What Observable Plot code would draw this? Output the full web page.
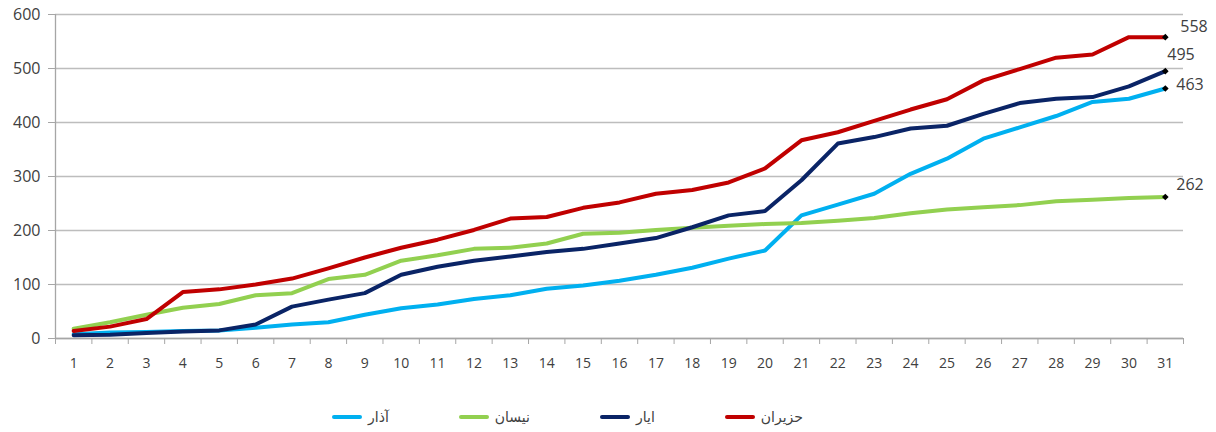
<!DOCTYPE html>
<html>
<head>
<meta charset="utf-8">
<script src="https://cdn.jsdelivr.net/npm/d3@7"></script>
<script src="https://cdn.jsdelivr.net/npm/@observablehq/plot@0.6"></script>
<style>
  body { margin: 0; background: #fff; font-family: "Open Sans", "DejaVu Sans", sans-serif; }
  #chart svg { display: block; }
  .legend { display: flex; gap: 70px; padding-left: 332px; margin-top: 22px; height: 20px; align-items: center; font-size: 14px; color: #404040; font-family: "DejaVu Sans", sans-serif; }
  .legend .item { display: flex; align-items: center; gap: 6px; }
  .legend .sw { width: 30px; height: 4px; border-radius: 2px; }
</style>
</head>
<body>
<div id="chart"></div>
<script>
const days = [1,2,3,4,5,6,7,8,9,10,11,12,13,14,15,16,17,18,19,20,21,22,23,24,25,26,27,28,29,30,31];
const seriesNames = ["آذار", "نيسان", "ايار", "حزيران"];
const seriesColors = ["#00b0f0", "#92d050", "#0a2466", "#c00000"];
const adhar   = [8,11,12,14,15,20,26,30,44,56,63,73,80,92,98,107,118,131,148,163,228,248,268,305,333,370,391,412,438,444,463];
const nisan   = [18,30,44,57,64,80,84,110,118,144,154,166,168,176,194,196,201,205,209,212,214,218,223,232,239,243,247,254,257,260,262];
const ayar    = [6,7,10,13,15,26,59,72,84,118,133,144,152,160,166,176,186,206,228,236,293,361,373,389,394,416,436,444,447,467,495];
const haziran = [14,22,36,86,91,100,111,130,150,168,183,201,222,225,242,252,268,275,289,315,367,382,403,424,443,478,499,520,526,558,558];
const yTicks = [0,100,200,300,400,500,600];

const seriesValues = [adhar, nisan, ayar, haziran];
const rows = [];
seriesNames.forEach((name, i) => {
  days.forEach((d, j) => rows.push({series: name, day: d, value: seriesValues[i][j]}));
});
const lastRows = seriesNames.map((name, i) => ({series: name, day: days[days.length - 1], value: seriesValues[i][days.length - 1]}));
const boundaries = [days[0] - 0.5, ...days.map(d => d + 0.5)];

// end-label placement (styling only), in series order
const labelDx = [11, 11, 2, 15];
const labelDy = [-4, -12, -16, -10];
const endLabels = lastRows.map((r, i) =>
  Plot.text([r], {x: "day", y: "value", text: d => String(d.value), dx: labelDx[i], dy: labelDy[i], textAnchor: "start", fill: "#404040", fontSize: 16})
);

const chart = Plot.plot({
  width: 1216,
  height: 385,
  marginLeft: 55,
  marginRight: 33,
  marginTop: 14,
  marginBottom: 47,
  style: {fontFamily: "'Open Sans', 'DejaVu Sans', sans-serif", fontSize: "14px", color: "#404040", background: "#fff"},
  x: {type: "linear", domain: [days[0] - 0.5, days[days.length - 1] + 0.5]},
  y: {domain: [0, 600]},
  color: {domain: seriesNames, range: seriesColors},
  marks: [
    Plot.gridY(yTicks, {stroke: "#bdbdbd", strokeOpacity: 1, strokeWidth: 1.3}),
    Plot.ruleX([days[0] - 0.5], {y1: 0, y2: 600, stroke: "#a6a6a6", strokeWidth: 1.3}),
    Plot.ruleY([0], {stroke: "#a6a6a6", strokeWidth: 1.3}),
    Plot.axisY(yTicks, {tickSize: 7, tickPadding: 8, stroke: "#a6a6a6", fill: "#404040", fontSize: 16, label: null}),
    Plot.axisX(boundaries, {tickSize: 6, tickFormat: () => "", stroke: "#a6a6a6", label: null}),
    Plot.axisX(days, {tickSize: 0, tickPadding: 20, fill: "#404040", fontSize: 14, label: null}),
    Plot.line(rows, {x: "day", y: "value", z: "series", stroke: "series", strokeWidth: 4, strokeLinejoin: "round", strokeLinecap: "round"}),
    Plot.dot(lastRows, {x: "day", y: "value", symbol: "diamond2", r: 3, fill: "#000"}),
    ...endLabels
  ]
});
document.getElementById("chart").appendChild(chart);

const legend = document.createElement("div");
legend.className = "legend";
seriesNames.forEach((name, i) => {
  const item = document.createElement("div");
  item.className = "item";
  const sw = document.createElement("span");
  sw.className = "sw";
  sw.style.background = seriesColors[i];
  const label = document.createElement("span");
  label.dir = "rtl";
  label.textContent = name;
  item.appendChild(sw);
  item.appendChild(label);
  legend.appendChild(item);
});
document.getElementById("chart").appendChild(legend);
</script>
</body>
</html>
